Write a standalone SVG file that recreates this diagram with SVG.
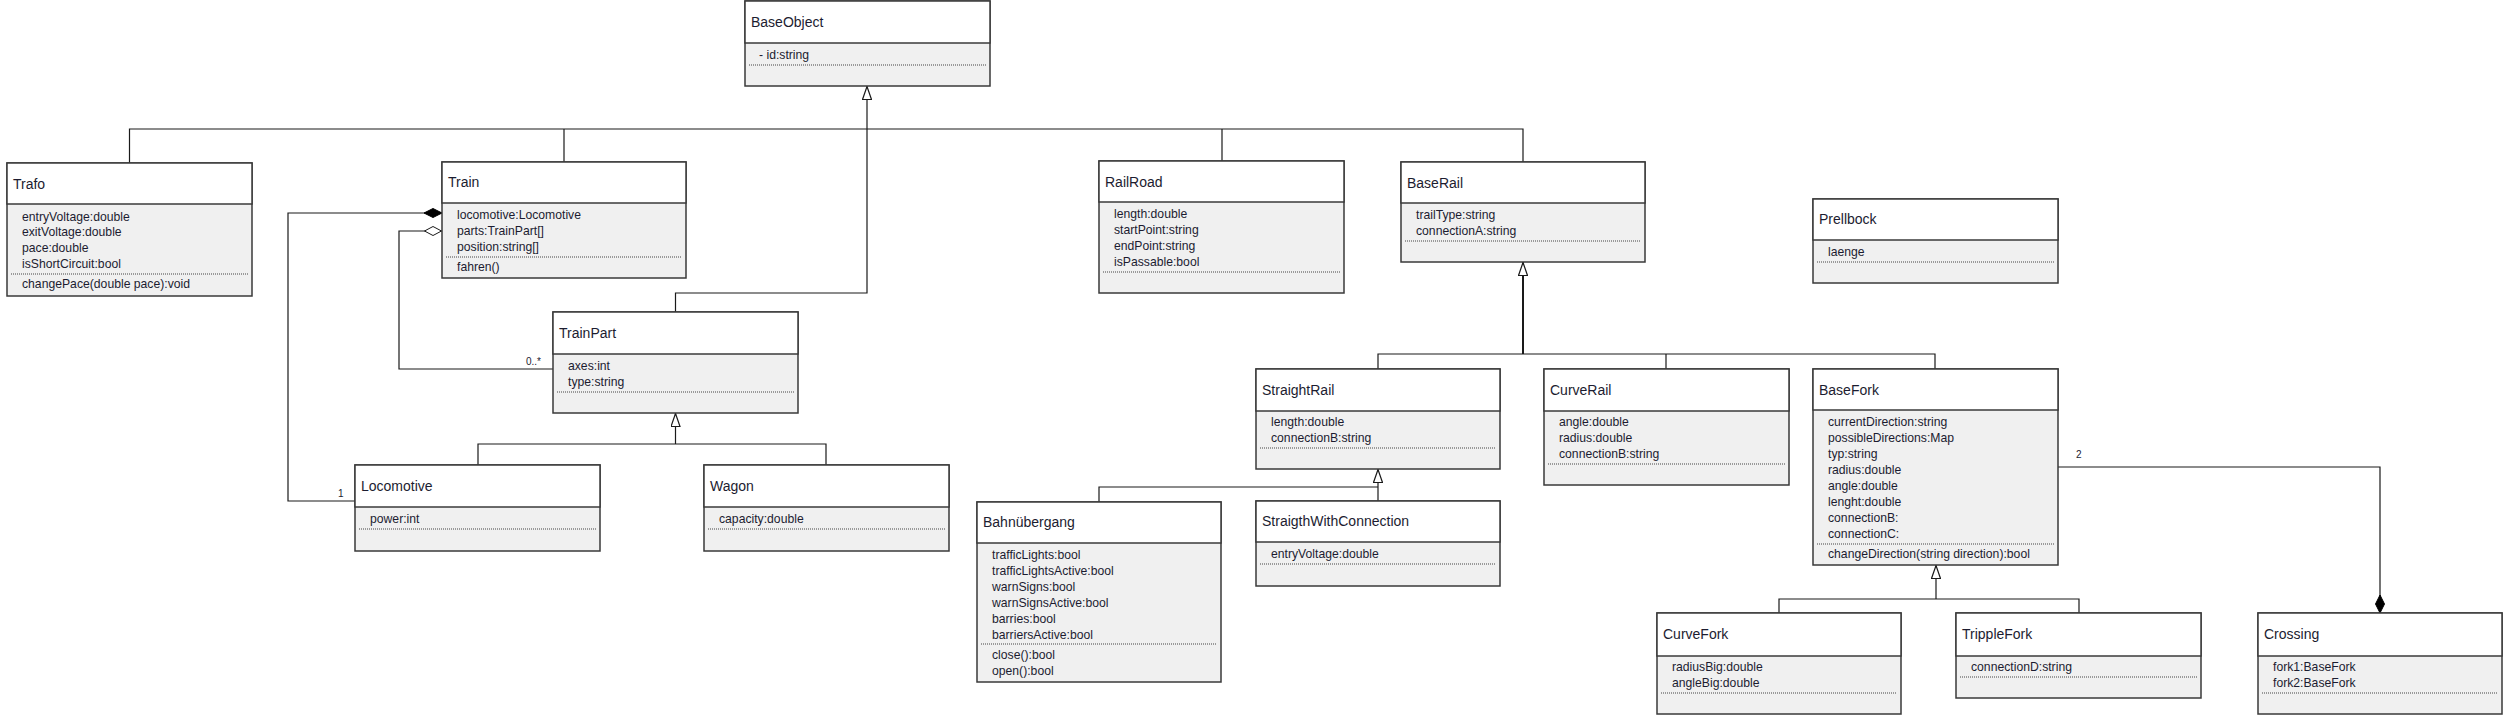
<svg xmlns="http://www.w3.org/2000/svg" width="2507" height="716" viewBox="0 0 2507 716">
<style>
.body{fill:#f0f0f0;stroke:#3a3a3a;stroke-width:1.5}
.head{fill:#ffffff;stroke:#3a3a3a;stroke-width:1.5}
.dot{stroke:#444;stroke-width:1;stroke-dasharray:1 1}
.t{font-family:"Liberation Sans",Arial,sans-serif;font-size:14px;fill:#1c1c30}
.a{font-family:"Liberation Sans",Arial,sans-serif;font-size:12.2px;fill:#1c1c30}
.lbl{font-family:"Liberation Sans",Arial,sans-serif;font-size:10px;fill:#1c1c30}
.c{fill:none;stroke:#1a1a1a;stroke-width:1.2}
.thick{stroke-width:2}
</style>
<defs>
<marker id="gen" viewBox="0 0 14 10" refX="14" refY="5" markerWidth="14" markerHeight="10" markerUnits="userSpaceOnUse" orient="auto">
<path d="M0.5,0.5 L13.5,5 L0.5,9.5 Z" fill="#fff" stroke="#1a1a1a" stroke-width="1.2"/>
</marker>
<marker id="comp" viewBox="0 0 18 10" refX="18" refY="5" markerWidth="18" markerHeight="10" markerUnits="userSpaceOnUse" orient="auto">
<path d="M0,5 L9,0.5 L18,5 L9,9.5 Z" fill="#000" stroke="#000" stroke-width="1"/>
</marker>
<marker id="agg" viewBox="0 0 18 10" refX="18" refY="5" markerWidth="18" markerHeight="10" markerUnits="userSpaceOnUse" orient="auto">
<path d="M0.5,5 L9,0.5 L17.5,5 L9,9.5 Z" fill="#fff" stroke="#1a1a1a" stroke-width="1"/>
</marker>
</defs>
<rect width="2507" height="716" fill="#fff"/>

<g id="connectors">
<path class="c" d="M129.5,163 L129.5,129 L1523,129 L1523,162"/>
<path class="c" d="M564,129 L564,162"/>
<path class="c" d="M1222,129 L1222,161"/>
<path class="c" d="M867,129 L867,86" marker-end="url(#gen)"/>
<path class="c" d="M675.5,312 L675.5,293 L867,293 L867,129"/>
<path class="c" d="M355,501 L288,501 L288,213 L442,213" marker-end="url(#comp)"/>
<path class="c" d="M553,369 L399,369 L399,231 L442,231" marker-end="url(#agg)"/>
<text class="lbl" x="526" y="365">0..*</text>
<text class="lbl" x="338" y="497">1</text>
<path class="c" d="M478,465 L478,444 L826,444 L826,465"/>
<path class="c" d="M675.5,444 L675.5,413" marker-end="url(#gen)"/>
<path class="c" d="M1378,369 L1378,354 L1935,354 L1935,369"/>
<path class="c" d="M1666,354 L1666,369"/>
<path class="c thick" d="M1523,354 L1523,262" marker-end="url(#gen)"/>
<path class="c" d="M1099,502 L1099,487 L1378,487"/>
<path class="c" d="M1378,501 L1378,469" marker-end="url(#gen)"/>
<path class="c" d="M1779,613 L1779,599 L2079,599 L2079,613"/>
<path class="c" d="M1936,599 L1936,565" marker-end="url(#gen)"/>
<path class="c" d="M2058,467 L2380,467 L2380,613" marker-end="url(#comp)"/>
<text class="lbl" x="2076" y="458">2</text>
</g>

<g id="BaseObject">
<rect class="body" x="745" y="1" width="245" height="85"/>
<rect class="head" x="745" y="1" width="245" height="42"/>
<text class="t" x="751" y="27">BaseObject</text>
<text class="a" x="759" y="59">- id:string</text>
<line class="dot" x1="749" y1="65" x2="986" y2="65"/>
</g>

<g id="Trafo">
<rect class="body" x="7" y="163" width="245" height="133"/>
<rect class="head" x="7" y="163" width="245" height="41"/>
<text class="t" x="13" y="189">Trafo</text>
<text class="a" x="22" y="221">entryVoltage:double</text>
<text class="a" x="22" y="236">exitVoltage:double</text>
<text class="a" x="22" y="252">pace:double</text>
<text class="a" x="22" y="268">isShortCircuit:bool</text>
<line class="dot" x1="11" y1="274" x2="248" y2="274"/>
<text class="a" x="22" y="288">changePace(double pace):void</text>
</g>

<g id="Train">
<rect class="body" x="442" y="162" width="244" height="116"/>
<rect class="head" x="442" y="162" width="244" height="41"/>
<text class="t" x="448" y="187">Train</text>
<text class="a" x="457" y="219">locomotive:Locomotive</text>
<text class="a" x="457" y="235">parts:TrainPart[]</text>
<text class="a" x="457" y="251">position:string[]</text>
<line class="dot" x1="446" y1="257" x2="682" y2="257"/>
<text class="a" x="457" y="271">fahren()</text>
</g>

<g id="TrainPart">
<rect class="body" x="553" y="312" width="245" height="101"/>
<rect class="head" x="553" y="312" width="245" height="42"/>
<text class="t" x="559" y="338">TrainPart</text>
<text class="a" x="568" y="370">axes:int</text>
<text class="a" x="568" y="386">type:string</text>
<line class="dot" x1="557" y1="392" x2="794" y2="392"/>
</g>

<g id="Locomotive">
<rect class="body" x="355" y="465" width="245" height="86"/>
<rect class="head" x="355" y="465" width="245" height="42"/>
<text class="t" x="361" y="491">Locomotive</text>
<text class="a" x="370" y="523">power:int</text>
<line class="dot" x1="359" y1="529" x2="596" y2="529"/>
</g>

<g id="Wagon">
<rect class="body" x="704" y="465" width="245" height="86"/>
<rect class="head" x="704" y="465" width="245" height="42"/>
<text class="t" x="710" y="491">Wagon</text>
<text class="a" x="719" y="523">capacity:double</text>
<line class="dot" x1="708" y1="529" x2="945" y2="529"/>
</g>

<g id="RailRoad">
<rect class="body" x="1099" y="161" width="245" height="132"/>
<rect class="head" x="1099" y="161" width="245" height="41"/>
<text class="t" x="1105" y="187">RailRoad</text>
<text class="a" x="1114" y="218">length:double</text>
<text class="a" x="1114" y="234">startPoint:string</text>
<text class="a" x="1114" y="250">endPoint:string</text>
<text class="a" x="1114" y="266">isPassable:bool</text>
<line class="dot" x1="1103" y1="272" x2="1340" y2="272"/>
</g>

<g id="BaseRail">
<rect class="body" x="1401" y="162" width="244" height="100"/>
<rect class="head" x="1401" y="162" width="244" height="41"/>
<text class="t" x="1407" y="188">BaseRail</text>
<text class="a" x="1416" y="219">trailType:string</text>
<text class="a" x="1416" y="235">connectionA:string</text>
<line class="dot" x1="1405" y1="241" x2="1641" y2="241"/>
</g>

<g id="Prellbock">
<rect class="body" x="1813" y="199" width="245" height="84"/>
<rect class="head" x="1813" y="199" width="245" height="41"/>
<text class="t" x="1819" y="224">Prellbock</text>
<text class="a" x="1828" y="256">laenge</text>
<line class="dot" x1="1817" y1="262" x2="2054" y2="262"/>
</g>

<g id="StraightRail">
<rect class="body" x="1256" y="369" width="244" height="100"/>
<rect class="head" x="1256" y="369" width="244" height="42"/>
<text class="t" x="1262" y="395">StraightRail</text>
<text class="a" x="1271" y="426">length:double</text>
<text class="a" x="1271" y="442">connectionB:string</text>
<line class="dot" x1="1260" y1="448" x2="1496" y2="448"/>
</g>

<g id="CurveRail">
<rect class="body" x="1544" y="369" width="245" height="116"/>
<rect class="head" x="1544" y="369" width="245" height="42"/>
<text class="t" x="1550" y="395">CurveRail</text>
<text class="a" x="1559" y="426">angle:double</text>
<text class="a" x="1559" y="442">radius:double</text>
<text class="a" x="1559" y="458">connectionB:string</text>
<line class="dot" x1="1548" y1="464" x2="1785" y2="464"/>
</g>

<g id="BaseFork">
<rect class="body" x="1813" y="369" width="245" height="196"/>
<rect class="head" x="1813" y="369" width="245" height="41"/>
<text class="t" x="1819" y="395">BaseFork</text>
<text class="a" x="1828" y="426">currentDirection:string</text>
<text class="a" x="1828" y="442">possibleDirections:Map</text>
<text class="a" x="1828" y="458">typ:string</text>
<text class="a" x="1828" y="474">radius:double</text>
<text class="a" x="1828" y="490">angle:double</text>
<text class="a" x="1828" y="506">lenght:double</text>
<text class="a" x="1828" y="522">connectionB:</text>
<text class="a" x="1828" y="538">connectionC:</text>
<line class="dot" x1="1817" y1="544" x2="2054" y2="544"/>
<text class="a" x="1828" y="558">changeDirection(string direction):bool</text>
</g>

<g id="Bahnuebergang">
<rect class="body" x="977" y="502" width="244" height="180"/>
<rect class="head" x="977" y="502" width="244" height="41"/>
<text class="t" x="983" y="527">Bahnübergang</text>
<text class="a" x="992" y="559">trafficLights:bool</text>
<text class="a" x="992" y="575">trafficLightsActive:bool</text>
<text class="a" x="992" y="591">warnSigns:bool</text>
<text class="a" x="992" y="607">warnSignsActive:bool</text>
<text class="a" x="992" y="623">barries:bool</text>
<text class="a" x="992" y="639">barriersActive:bool</text>
<line class="dot" x1="981" y1="644" x2="1217" y2="644"/>
<text class="a" x="992" y="659">close():bool</text>
<text class="a" x="992" y="675">open():bool</text>
</g>

<g id="StraigthWithConnection">
<rect class="body" x="1256" y="501" width="244" height="85"/>
<rect class="head" x="1256" y="501" width="244" height="41"/>
<text class="t" x="1262" y="526">StraigthWithConnection</text>
<text class="a" x="1271" y="558">entryVoltage:double</text>
<line class="dot" x1="1260" y1="564" x2="1496" y2="564"/>
</g>

<g id="CurveFork">
<rect class="body" x="1657" y="613" width="244" height="101"/>
<rect class="head" x="1657" y="613" width="244" height="43"/>
<text class="t" x="1663" y="639">CurveFork</text>
<text class="a" x="1672" y="671">radiusBig:double</text>
<text class="a" x="1672" y="687">angleBig:double</text>
<line class="dot" x1="1661" y1="693" x2="1897" y2="693"/>
</g>

<g id="TrippleFork">
<rect class="body" x="1956" y="613" width="245" height="85"/>
<rect class="head" x="1956" y="613" width="245" height="43"/>
<text class="t" x="1962" y="639">TrippleFork</text>
<text class="a" x="1971" y="671">connectionD:string</text>
<line class="dot" x1="1960" y1="677" x2="2197" y2="677"/>
</g>

<g id="Crossing">
<rect class="body" x="2258" y="613" width="244" height="101"/>
<rect class="head" x="2258" y="613" width="244" height="43"/>
<text class="t" x="2264" y="639">Crossing</text>
<text class="a" x="2273" y="671">fork1:BaseFork</text>
<text class="a" x="2273" y="687">fork2:BaseFork</text>
<line class="dot" x1="2262" y1="693" x2="2498" y2="693"/>
</g>
</svg>
